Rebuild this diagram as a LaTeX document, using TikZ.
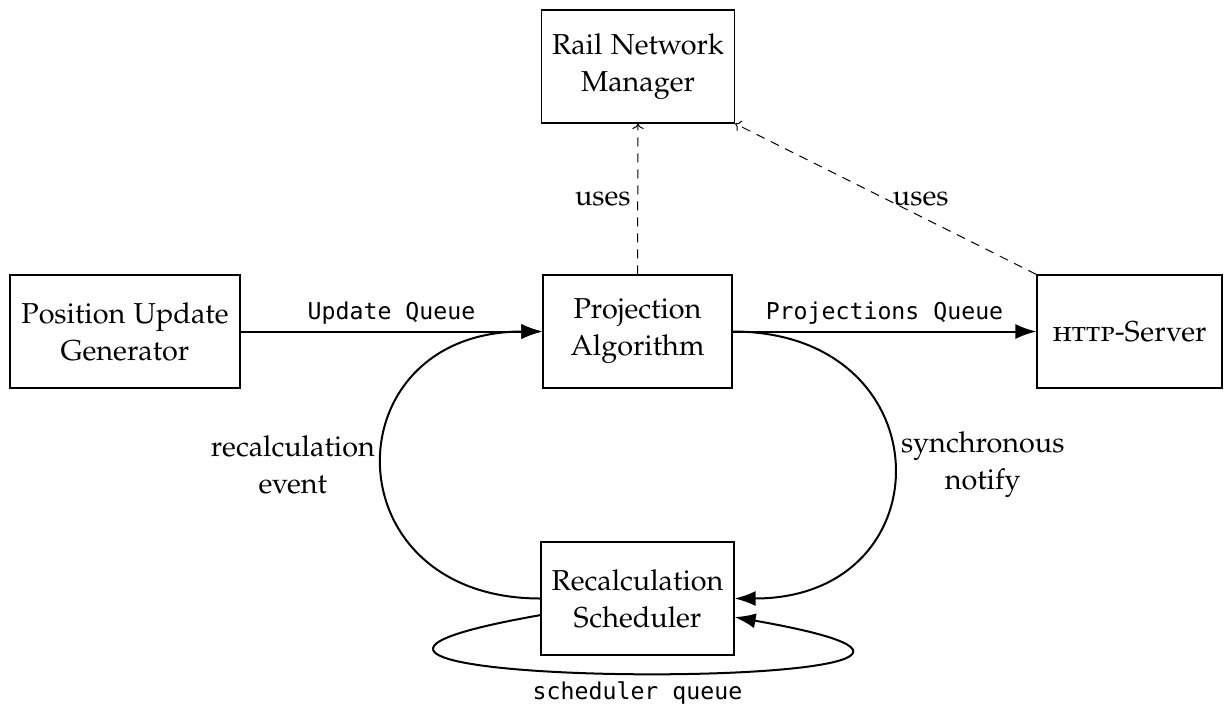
\documentclass[tikz,border=0pt]{standalone}
\usepackage{fontspec}
\newfontfamily\queuefont{DejaVu Sans Mono}
\usepackage[T1]{fontenc}
\newcommand\palfont{\fontencoding{T1}\fontfamily{pplx}\selectfont}
\usetikzlibrary{arrows.meta}
\begin{document}
\begin{tikzpicture}[x=0.5pt,y=-0.5pt,
  box/.style={draw, line width=0.6pt, align=center, inner sep=0pt,
    minimum height=56.5pt, font=\palfont\fontsize{14.4}{18.5}\selectfont},
  flow/.style={line width=1pt, -{Latex[length=10.5pt,width=7.5pt]}},
  usesline/.style={line width=0.5pt, dash pattern=on 4.5pt off 3.5pt, ->},
  lbl/.style={font=\palfont\fontsize{14.4}{18.5}\selectfont, align=center},
  qlbl/.style={font=\queuefont\fontsize{11.6}{14}\selectfont}]
\useasboundingbox (0,0) rectangle (1232,709);

% components
\node[box, minimum width=96.5pt] (rnm) at (638,66.5) {Rail Network\\Manager};
\node[box, minimum width=115pt] (pug) at (125,331.5) {Position Update\\Generator};
\node[box, minimum width=94.5pt] (pa) at (637.5,331.5) {Projection\\Algorithm};
\node[box, minimum width=92.5pt] (http) at (1129.5,331.5) {\textsc{http}-Server};
\node[box, minimum width=96.5pt] (rs) at (637.5,598.5) {Recalculation\\Scheduler};

% queues
\draw[flow] (pug) -- node[qlbl, above] {Update Queue} (pa);
\draw[flow] (pa) -- node[qlbl, above] {Projections Queue} (http);

% dependencies
\draw[usesline] (pa.north) -- node[lbl, left] {uses} (rnm.south);
\draw[usesline] (http.north west) -- node[lbl, right] {uses} (rnm.south east);

% recalculation loop
\draw[flow] (rs.west) .. controls +(-106pt,0) and +(-106pt,0) ..
  node[lbl, left] {recalculation\\event} (pa.west);
\draw[flow] (pa.east) .. controls +(106.5pt,0) and +(106.5pt,0) ..
  node[lbl, right] {synchronous\\notify} (rs.east);
\draw[flow] ([yshift=-8.3pt]rs.west) .. controls +(-219pt,-38.5pt) and +(219pt,-38.5pt) ..
  node[qlbl, below] {scheduler queue} ([yshift=-9.3pt]rs.east);
\end{tikzpicture}
\end{document}
